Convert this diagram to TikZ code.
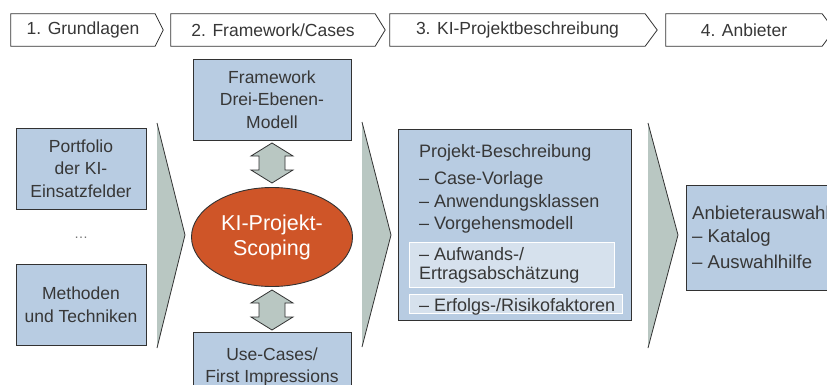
\documentclass[tikz,border=0pt]{standalone}
\usepackage{fontspec}
\setmainfont{Liberation Sans}
\usetikzlibrary{shapes.geometric,calc}
\definecolor{boxblue}{RGB}{184,204,226}
\definecolor{innerblue}{RGB}{214,225,237}
\definecolor{flowgray}{RGB}{185,199,194}
\definecolor{scopered}{RGB}{207,85,40}
\definecolor{txt}{RGB}{55,55,55}
\definecolor{edge}{RGB}{50,50,50}
\tikzset{
  phase/.style={minimum height=32pt, inner sep=0pt, font=\fontsize{17.5}{21}\selectfont, text=txt},
  phaseline/.style={draw=edge, line width=0.8pt},
  bluebox/.style={draw=edge, line width=0.9pt, fill=boxblue, inner sep=0pt, align=center,
    text=txt, font=\fontsize{17.5}{22.5}\selectfont},
  innerbox/.style={draw=white, line width=0.9pt, fill=innerblue, inner sep=0pt},
  listline/.style={anchor=west, inner sep=0pt, text=txt, font=\fontsize{18}{21}\selectfont},
  widelist/.style={listline, font=\fontsize{18.6}{22}\selectfont},
  flow/.style={fill=flowgray},
  flowedge/.style={draw=edge, line width=0.8pt},
  scope/.style={ellipse, draw=edge, line width=0.9pt, fill=scopered, text=white, inner sep=0pt,
    minimum width=161pt, minimum height=99pt, align=center, font=\fontsize{21.5}{25}\selectfont},
  pics/dblarrow/.style={code={
    \path[fill=flowgray, draw=edge, line width=0.8pt]
      (0,-20) -- (21,-7) -- (13,-7) -- (13,7) -- (21,7) -- (0,20)
      -- (-21,7) -- (-13,7) -- (-13,-7) -- (-21,-7) -- cycle;}}
}
\begin{document}
\begin{tikzpicture}[x=1pt,y=-1pt]
\clip (0,0) rectangle (827,385);
\fill[white] (0,0) rectangle (827,385);

% phase headers
\node[phase, minimum width=144pt] (h1) at (83,30) {1. Grundlagen};
\node[phase, minimum width=204pt] (h2) at (273,30) {2. Framework/Cases};
\node[phase, minimum width=255pt] (h3) at (517.5,30) {3. KI-Projektbeschreibung};
\node[phase, minimum width=156pt] (h4) at (744,30) {4. Anbieter};
\foreach \h/\p in {h1/8,h2/10,h3/12,h4/12}{
  \draw[phaseline] (\h.north west) -- (\h.north east) -- ($(\h.east)+(\p,0)$)
    -- (\h.south east) -- (\h.south west) -- cycle;
}

% inputs on the left
\node[bluebox, minimum width=130pt, minimum height=81pt] (port) at (81,168.5)
  {Portfolio\\der KI-\\Einsatzfelder};
\node[text=txt!70, font=\fontsize{14}{16}\selectfont] (dots) at (81,238) {…};
\node[bluebox, minimum width=130pt, minimum height=81pt] (meth) at (81,304.5)
  {Methoden\\und Techniken};

% flow chevron 1
\coordinate (f1t) at (157,123); \coordinate (f1p) at (185,235); \coordinate (f1b) at (157,348);
\fill[flow] (f1t) -- (f1p) -- (f1b) -- cycle;
\draw[flowedge] (f1t) -- (f1p) -- (f1b);

% scoping core
\node[bluebox, minimum width=158pt, minimum height=81pt] (fw) at (272,99.5)
  {Framework\\Drei-Ebenen-\\Modell};
\node[scope] (scoping) at (272,237) {KI-Projekt-\\Scoping};
\node[bluebox, minimum width=158pt, minimum height=66pt, text depth=0pt] (uc) at (272,365)
  {Use-Cases/\\First Impressions};
\pic at (272,163) {dblarrow};
\pic at (272,310) {dblarrow};

% flow chevron 2
\coordinate (f2t) at (362,122); \coordinate (f2p) at (391,235); \coordinate (f2b) at (362,347);
\fill[flow] (f2t) -- (f2p) -- (f2b) -- cycle;
\draw[flowedge] (f2t) -- (f2p) -- (f2b);

% project description
\node[bluebox, minimum width=233pt, minimum height=191pt] (proj) at (514.5,224.5) {};
\node[innerbox, minimum width=205pt, minimum height=45pt] (aufw) at (511.5,264.5) {};
\node[innerbox, minimum width=213pt, minimum height=19pt] (erf) at (515.5,303.5) {};
\node[listline] (p0) at (419,153) {Projekt-Beschreibung};
\node[listline] (p1) at (419,180) {– Case-Vorlage};
\node[listline] (p2) at (419,202.5) {– Anwendungsklassen};
\node[listline] (p3) at (419,225) {– Vorgehensmodell};
\node[listline] (p4) at (419,254) {– Aufwands-/};
\node[listline] (p5) at (419,275) {Ertragsabschätzung};
\node[listline] (p6) at (419,307) {– Erfolgs-/Risikofaktoren};

% flow chevron 3
\coordinate (f3t) at (648,123); \coordinate (f3p) at (678,235); \coordinate (f3b) at (648,348);
\fill[flow] (f3t) -- (f3p) -- (f3b) -- cycle;
\draw[flowedge] (f3t) -- (f3p) -- (f3b);

% provider selection
\node[bluebox, minimum width=160pt, minimum height=105pt] (anb) at (766,237.5) {};
\node[widelist] (a0) at (692,213) {Anbieterauswahl};
\node[widelist] (a1) at (692,238) {– Katalog};
\node[widelist] (a2) at (692,262) {– Auswahlhilfe};
\end{tikzpicture}
\end{document}
